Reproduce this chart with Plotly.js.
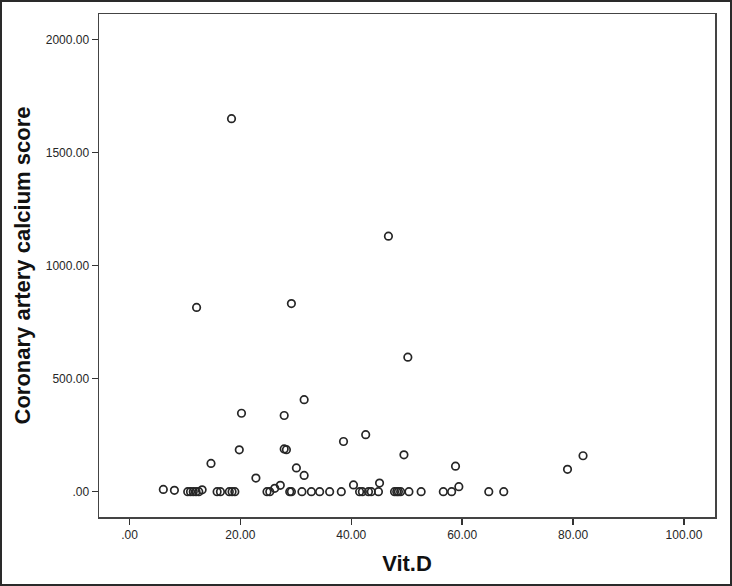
<!DOCTYPE html>
<html>
<head>
<meta charset="utf-8">
<script src="https://cdn.plot.ly/plotly-3.0.1.min.js"></script>
<style>
  html, body { margin: 0; padding: 0; background: #fff; }
  #wrap { position: relative; width: 732px; height: 586px; }
  #chart { position: absolute; left: 0; top: 0; width: 732px; height: 586px; }
  #frame { position: absolute; left: 0; top: 0; width: 732px; height: 586px; box-sizing: border-box; border: 2px solid #2a2a2a; pointer-events: none; }
</style>
</head>
<body>
<div id="wrap"><div id="chart"></div><div id="frame"></div></div>
<script>
// Vitamin D (x) vs coronary artery calcium score (y)
const vitD = [
  18.4, 12.1, 29.2, 46.7, 50.2, 31.5, 20.2, 27.9,
  14.7, 19.8, 22.8, 27.9, 28.3, 30.1, 31.5, 38.6, 42.6, 49.5, 58.8, 79.0, 81.8,
  6.1, 8.1, 13.1, 26.2, 27.2, 40.4, 45.1, 59.4,
  10.5, 11.0, 11.5, 12.0, 12.5, 15.8, 16.4, 18.0, 18.5, 19.0, 24.8, 25.3,
  28.9, 29.2, 31.1, 32.8, 34.3, 36.1, 38.2, 41.5, 42.0, 43.1, 43.6, 44.9,
  47.8, 48.2, 48.5, 48.9, 50.4, 52.6, 56.6, 58.1, 64.8, 67.5
];
const cacScore = [
  1650, 815, 832, 1130, 595, 407, 347, 337,
  125, 185, 60, 189, 186, 105, 72, 222, 252, 163, 113, 99, 159,
  10, 6, 8, 15, 28, 30, 38, 22,
  0, 0, 0, 0, 0, 0, 0, 0, 0, 0, 0, 0,
  0, 0, 0, 0, 0, 0, 0, 0, 0, 0, 0, 0,
  0, 0, 0, 0, 0, 0, 0, 0, 0, 0
];
const xTickVals = [0, 20, 40, 60, 80, 100];
const xTickText = ['.00', '20.00', '40.00', '60.00', '80.00', '100.00'];
const yTickVals = [0, 500, 1000, 1500, 2000];
const yTickText = ['.00', '500.00', '1000.00', '1500.00', '2000.00'];
const xTitle = 'Vit.D';
const yTitle = 'Coronary artery calcium score';

const trace = {
  type: 'scatter',
  mode: 'markers',
  x: vitD,
  y: cacScore,
  marker: {
    symbol: 'circle-open',
    size: 7.5,
    color: '#262626',
    line: { width: 1.7, color: '#262626' }
  },
  hoverinfo: 'x+y'
};

const axisFont = { family: 'Liberation Sans, Arial, sans-serif', size: 12, color: '#262626' };
const titleFont = { family: 'Liberation Sans, Arial, sans-serif', size: 22, color: '#111', weight: 'bold' };

const layout = {
  width: 732,
  height: 586,
  margin: { l: 99, r: 17, t: 14, b: 69 },
  paper_bgcolor: '#fff',
  plot_bgcolor: '#fff',
  showlegend: false,
  xaxis: {
    range: [-5.5, 105.6],
    tickvals: xTickVals,
    ticktext: xTickText,
    ticks: 'outside',
    ticklen: 6,
    tickwidth: 1.5,
    tickcolor: '#333',
    showgrid: false,
    zeroline: false,
    showline: true,
    mirror: true,
    linecolor: '#444',
    linewidth: 1.5,
    tickfont: axisFont,
    title: { text: '<b>' + xTitle + '</b>', font: titleFont, standoff: 14 }
  },
  yaxis: {
    range: [-112, 2113],
    tickvals: yTickVals,
    ticktext: yTickText,
    ticks: 'outside',
    ticklen: 6,
    tickwidth: 1.5,
    tickcolor: '#333',
    showgrid: false,
    zeroline: false,
    showline: true,
    mirror: true,
    linecolor: '#444',
    linewidth: 1.5,
    tickfont: axisFont,
    title: { text: '<b>' + yTitle + '</b>', font: titleFont, standoff: 9 }
  }
};

Plotly.newPlot('chart', [trace], layout, { displayModeBar: false, staticPlot: true });
</script>
</body>
</html>
